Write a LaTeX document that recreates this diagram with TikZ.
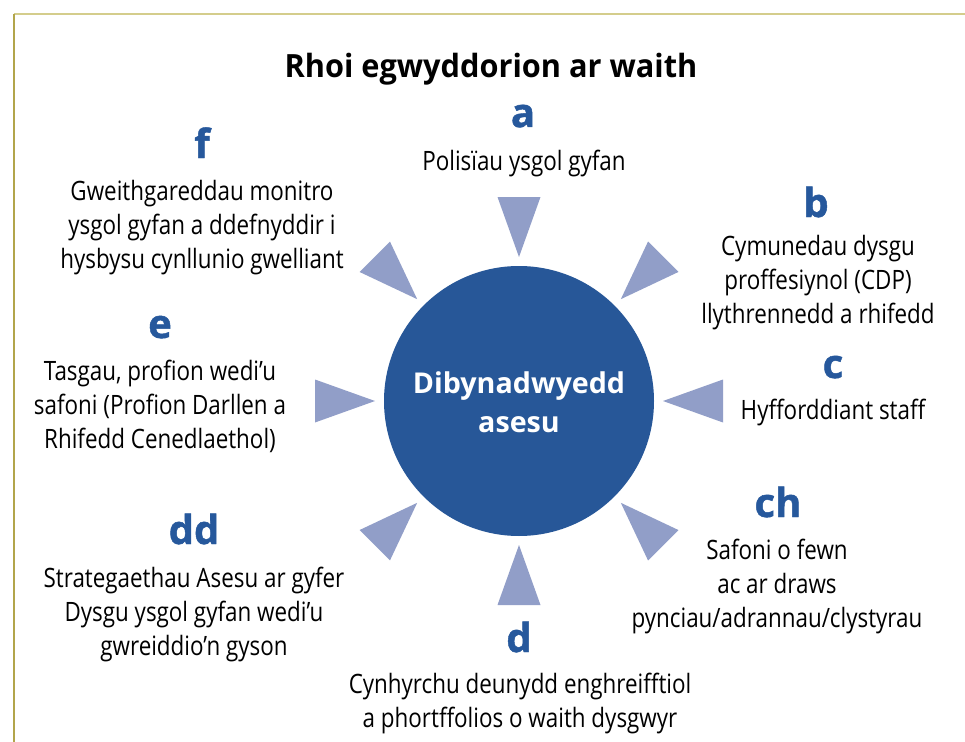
\documentclass[tikz,border=0pt]{standalone}
\usepackage{fontspec}
\setmainfont{Open Sans}
\newfontfamily\bodyfont{Open Sans}[FakeStretch=0.84]
\newfontfamily\titlefont{Open Sans}[FakeStretch=0.96]
\newfontfamily\lettfont{Open Sans}[FakeBold=1.2]
\definecolor{circblue}{RGB}{39,87,152}
\definecolor{tri}{RGB}{145,158,200}
\definecolor{lettblue}{RGB}{38,88,156}
\definecolor{frametop}{RGB}{212,205,140}
\definecolor{frameleft}{RGB}{178,165,75}
\tikzset{
  body/.style={anchor=base, align=center, text=black, inner sep=0pt, font=\bodyfont\fontsize{20}{25.3}\selectfont},
  lett/.style={anchor=base, inner sep=0pt, text=lettblue, font=\lettfont\bfseries\fontsize{30}{30}\selectfont},
  arrowtri/.style={fill=tri, draw=none}
}
\begin{document}
\begin{tikzpicture}[x=0.75pt, y=-0.75pt]
\useasboundingbox (0,0) rectangle (965,742);
\fill[white] (0,0) rectangle (965,742);
% frame
\draw[frametop, line width=1.5pt] (14,14) -- (965,14);
\draw[frameleft, line width=0.8pt] (14,14) -- (14,742);
% title
\node[anchor=base, inner sep=0pt, font=\titlefont\bfseries\fontsize{24}{24}\selectfont] (title) at (491,78) {Rhoi egwyddorion ar waith};
% central circle
\node[circle, fill=circblue, minimum size=270*0.75pt, inner sep=0pt] (hub) at (519,401) {};
\node[anchor=base, align=center, inner sep=0pt, text=white, font=\bfseries\fontsize{21.5}{29}\selectfont] (hubtext) at (519,432) {Dibynadwyedd\\asesu};
% triangles
\foreach \ang in {0,45,...,315}{
  \begin{scope}[shift={(519,401)}, rotate=\ang]
    \fill[arrowtri] (144,0) -- (204,21.5) -- (204,-21.5) -- cycle;
  \end{scope}
}
% a
\node[lett] (la) at (523,127) {a};
\node[body] (ta) at (524,171) {Polisïau ysgol gyfan};
% b
\node[lett] (lb) at (816,217) {b};
\node[body] (tb) at (818,323) {Cymunedau dysgu\\proffesiynol (CDP)\\llythrennedd a rhifedd};
% c
\node[lett] (lc) at (833,378) {c};
\node[body] (tc) at (833,419) {Hyfforddiant staff};
% ch
\node[lett] (lch) at (778,517) {ch};
\node[body] (tch) at (777,627) {Safoni o fewn\\ac ar draws\\pynciau/adrannau/clystyrau};
% d
\node[lett] (ld) at (519,652) {d};
\node[body] (td) at (520,727) {Cynhyrchu deunydd enghreifftiol\\a phortffolios o waith dysgwyr};
% dd
\node[lett] (ldd) at (194,544) {dd};
\node[body] (tdd) at (194,655) {Strategaethau Asesu ar gyfer\\Dysgu ysgol gyfan wedi’u\\gwreiddio’n gyson};
% e
\node[lett] (le) at (160,338) {e};
\node[body] (te) at (160,448) {Tasgau, profion wedi’u\\safoni (Profion Darllen a\\Rhifedd Cenedlaethol)};
% f
\node[lett] (lf) at (202,158) {f};
\node[body] (tf) at (202,268) {Gweithgareddau monitro\\ysgol gyfan a ddefnyddir i\\hysbysu cynllunio gwelliant};
\end{tikzpicture}
\end{document}
